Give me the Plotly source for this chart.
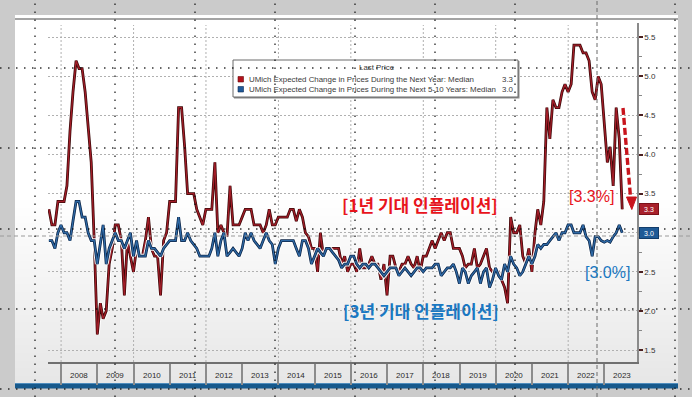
import plotly.graph_objects as go
import pandas as pd

W, H = 692, 397

# ---------------- data (monthly, Aug-2007 .. Jun-2023) ----------------
dates = pd.date_range("2007-08-31", periods=191, freq=pd.offsets.MonthEnd())

one_year_expect = [
    3.3, 3.1, 3.1, 3.4, 3.4,
    3.4, 3.6, 4.3, 4.8, 5.2, 5.1, 5.1, 4.8, 4.4, 3.9, 2.9, 1.7,
    2.1, 1.9, 2.0, 2.6, 2.8, 3.1, 3.1, 2.9, 2.2, 2.9, 2.7, 2.5,
    2.8, 2.7, 2.7, 2.9, 3.2, 2.8, 2.7, 2.7, 2.2, 2.9, 3.0, 3.4,
    3.4, 3.4, 4.6, 4.6, 4.1, 3.5, 3.5, 3.5, 3.3, 3.2, 3.1, 3.3,
    3.3, 3.3, 3.9, 3.0, 3.1, 3.0, 2.95, 3.6, 3.1, 3.1, 3.1, 3.2,
    3.3, 3.3, 3.3, 3.1, 3.1, 3.1, 3.0, 3.1, 3.3, 3.1, 3.1, 3.2,
    3.2, 3.2, 3.2, 3.3, 3.3, 3.15, 3.3, 3.2, 3.0, 2.95, 2.8, 2.8,
    2.5, 3.0, 2.7, 2.8, 2.8, 2.8, 2.8, 2.8, 2.6, 2.7, 2.5, 2.6,
    2.6, 2.5, 2.8, 2.55, 2.55, 2.6, 2.7, 2.6, 2.6, 2.4, 2.6, 2.2,
    2.7, 2.7, 2.55, 2.5, 2.6, 2.6, 2.7, 2.6, 2.55, 2.7, 2.5, 2.7,
    2.7, 2.8, 2.9, 2.8, 2.9, 3.0, 2.9, 3.0, 3.0, 2.8, 2.8, 2.8,
    2.7, 2.55, 2.6, 2.6, 2.8, 2.55, 2.6, 2.7, 2.8, 2.55, 2.5, 2.5,
    2.5, 2.4, 2.3, 2.1, 3.2, 3.0, 3.0, 3.1, 2.7, 2.6, 2.8, 2.5,
    3.0, 3.3, 3.1, 3.4, 4.6, 4.2, 4.7, 4.6, 4.6, 4.8, 4.9, 4.8,
    4.9, 5.4, 5.4, 5.4, 5.3, 5.3, 5.2, 4.8, 4.7, 5.0, 4.9, 4.4,
    3.9, 4.1, 3.6, 4.6, 4.2, 3.3,
]

five_ten_year_expect = [
    2.9, 2.9, 2.8, 3.0, 3.1,
    3.0, 3.0, 2.9, 3.15, 3.4, 3.4, 3.2, 3.2, 3.0, 2.9, 2.9, 2.6,
    2.9, 3.1, 2.6, 2.8, 2.9, 3.0, 2.9, 2.9, 2.8, 2.9, 3.0, 2.7,
    2.9, 2.7, 2.7, 2.7, 2.9, 2.8, 2.8, 2.75, 2.7, 2.8, 2.85, 2.9,
    2.9, 2.9, 3.2, 2.9, 2.9, 3.0, 2.9, 2.85, 2.8, 2.7, 2.7, 2.7,
    2.7, 2.8, 3.0, 2.7, 2.9, 3.0, 2.7, 2.75, 2.8, 2.75, 2.7, 2.8,
    3.0, 2.9, 3.0, 2.9, 2.85, 2.8, 2.9, 3.0, 2.9, 2.85, 2.6, 2.8,
    2.9, 2.9, 2.9, 2.9, 2.9, 2.8, 2.7, 2.9, 2.9, 2.8, 2.6, 2.7,
    2.8, 2.75, 2.7, 2.8, 2.8, 2.75, 2.7, 2.65, 2.55, 2.6, 2.6, 2.7,
    2.7, 2.6, 2.55, 2.6, 2.6, 2.55, 2.6, 2.6, 2.55, 2.5, 2.45, 2.5,
    2.55, 2.55, 2.55, 2.45, 2.5, 2.55, 2.5, 2.45, 2.5, 2.55, 2.55, 2.5,
    2.55, 2.55, 2.55, 2.6, 2.6, 2.45, 2.5, 2.55, 2.55, 2.6, 2.5, 2.35,
    2.55, 2.5, 2.35, 2.45, 2.5, 2.55, 2.35, 2.5, 2.55, 2.3, 2.4, 2.55,
    2.45, 2.4, 2.6, 2.5, 2.7, 2.6, 2.55, 2.45, 2.5, 2.6, 2.7, 2.6,
    2.7, 2.85, 2.8, 2.85, 2.85, 2.9, 2.95, 3.0, 2.9, 3.0, 3.0, 3.1,
    3.1, 3.0, 3.0, 3.0, 3.1, 2.95, 2.9, 2.7, 2.95, 2.95, 2.9, 2.88,
    2.9, 2.88, 2.95, 3.0, 3.1, 3.0,
]

year_labels = ["2008", "2009", "2010", "2011", "2012", "2013", "2014", "2015",
               "2016", "2017", "2018", "2019", "2020", "2021", "2022", "2023"]
y_tick_values = [1.5, 2.0, 2.5, 3.0, 3.5, 4.0, 4.5, 5.0, 5.5]
last_one_year = one_year_expect[-1]
last_five_ten = five_ten_year_expect[-1]

assert len(one_year_expect) == len(dates) == len(five_ten_year_expect)


def px(x):
    return x / W


def py(y):
    return 1 - y / H


RED_CORE, RED_EDGE = "#a31d28", "#3a0808"
BLUE_CORE, BLUE_EDGE = "#2f6aa6", "#0c2446"

fig = go.Figure()
for series, core, edge in [(one_year_expect, RED_CORE, RED_EDGE),
                           (five_ten_year_expect, BLUE_CORE, BLUE_EDGE)]:
    fig.add_trace(go.Scatter(x=dates, y=series, mode="lines",
                             line=dict(color="rgba(255,255,255,0.95)", width=4.8),
                             hoverinfo="skip"))
    fig.add_trace(go.Scatter(x=dates, y=series, mode="lines",
                             line=dict(color=edge, width=2.8), hoverinfo="skip"))
    fig.add_trace(go.Scatter(x=dates, y=series, mode="lines",
                             line=dict(color=core, width=1.3), hoverinfo="skip"))

shapes = []
# panel background (white with light gradient at the bottom)
shapes.append(dict(type="rect", xref="paper", yref="paper", layer="below",
                   x0=px(15), x1=px(678), y0=py(383), y1=py(15),
                   fillcolor="white", line=dict(width=0)))
N = 24
for i in range(N):
    y_top = 200 + i * (183 / N)
    shapes.append(dict(type="rect", xref="paper", yref="paper", layer="below",
                       x0=px(15), x1=px(678), y0=py(383), y1=py(y_top),
                       fillcolor="rgba(0,0,0,0.0037)", line=dict(width=0)))
# top thin gray rule
shapes.append(dict(type="line", xref="paper", yref="paper", layer="below",
                   x0=px(15), x1=px(678), y0=py(19), y1=py(19),
                   line=dict(color="#a4a4a4", width=2)))
# bottom blue bar
shapes.append(dict(type="rect", xref="paper", yref="paper", layer="below",
                   x0=px(15), x1=px(678), y0=py(388.5), y1=py(383),
                   fillcolor="#17598c", line=dict(width=0)))
shapes.append(dict(type="line", xref="paper", yref="paper", layer="below",
                   x0=px(15), x1=px(678), y0=py(383.5), y1=py(383.5),
                   line=dict(color="#4f8dbd", width=1)))
# vertical grid lines every two years
for yr in range(2008, 2024, 2):
    shapes.append(dict(type="line", xref="x", yref="paper", layer="below",
                       x0=f"{yr}-01-01", x1=f"{yr}-01-01", y0=py(362), y1=py(25),
                       line=dict(color="#b0b0b0", width=1, dash="2px,2px")))

# legend box
shapes.append(dict(type="rect", xref="paper", yref="paper", layer="above",
                   x0=px(234), x1=px(519.5), y0=py(98.5), y1=py(61),
                   fillcolor="#8a8a8a", line=dict(width=0)))
shapes.append(dict(type="rect", xref="paper", yref="paper", layer="above",
                   x0=px(233), x1=px(518), y0=py(97), y1=py(60),
                   fillcolor="white", line=dict(color="#6a6a6a", width=1)))
shapes.append(dict(type="rect", xref="paper", yref="paper", layer="above",
                   x0=px(238), x1=px(243.5), y0=py(82), y1=py(76.5),
                   fillcolor="#b3121c", line=dict(color="#6a0a0a", width=0.6)))
shapes.append(dict(type="rect", xref="paper", yref="paper", layer="above",
                   x0=px(238), x1=px(243.5), y0=py(92), y1=py(86.5),
                   fillcolor="#1f5a99", line=dict(color="#0d2a55", width=0.6)))

# dashed red arrow
shapes.append(dict(type="path", xref="paper", yref="paper", layer="above",
                   path=f"M {px(623)},{py(108)} L {px(630.5)},{py(197)}",
                   line=dict(color="#c8141c", width=3.4, dash="7px,3px")))
shapes.append(dict(type="path", xref="paper", yref="paper", layer="above",
                   path=f"M {px(626.5)},{py(197)} L {px(636.5)},{py(197)} L {px(631.8)},{py(209.5)} Z",
                   fillcolor="#c8141c", line=dict(color="#c8141c", width=1)))

# crosshair (screen capture)
shapes.append(dict(type="line", xref="paper", yref="paper", layer="above",
                   x0=px(597), x1=px(597), y0=0, y1=1,
                   line=dict(color="#6a6a6a", width=1, dash="4px,3px")))
shapes.append(dict(type="line", xref="paper", yref="paper", layer="above",
                   x0=0, x1=1, y0=py(236), y1=py(236),
                   line=dict(color="#9a9a9a", width=1, dash="4px,3px")))
# dotted overlay grid of the screen capture
for xv in [35, 115, 195, 275, 355, 435, 515, 675]:
    shapes.append(dict(type="line", xref="paper", yref="paper", layer="above",
                       x0=px(xv), x1=px(xv), y0=0, y1=1,
                       line=dict(color="rgba(0,0,0,0.8)", width=1.4, dash="1.5px,6.5px")))
for yv in [68, 148, 229, 309, 389]:
    shapes.append(dict(type="line", xref="paper", yref="paper", layer="above",
                       x0=0, x1=1, y0=py(yv), y1=py(yv),
                       line=dict(color="rgba(0,0,0,0.8)", width=1.4, dash="1.5px,6.5px")))

ann = []
LEG_FONT = dict(family="Liberation Sans, Arial, sans-serif", size=7.9, color="#3a3a3a")
ann.append(dict(xref="paper", yref="paper", x=px(376.5), y=py(67.5), text="Last Price",
                showarrow=False, xanchor="center", yanchor="middle", font=LEG_FONT))
ann.append(dict(xref="paper", yref="paper", x=px(246.5), y=py(79.3),
                text="UMich Expected Change in Prices During the Next Year: Median",
                showarrow=False, xanchor="left", yanchor="middle", font=LEG_FONT))
ann.append(dict(xref="paper", yref="paper", x=px(246.5), y=py(89.3),
                text="UMich Expected Change in Prices During the Next 5-10 Years: Median",
                showarrow=False, xanchor="left", yanchor="middle", font=LEG_FONT))
ann.append(dict(xref="paper", yref="paper", x=px(516), y=py(79.3), text=f"{last_one_year:.1f}",
                showarrow=False, xanchor="right", yanchor="middle", font=LEG_FONT))
ann.append(dict(xref="paper", yref="paper", x=px(516), y=py(89.3), text=f"{last_five_ten:.1f}",
                showarrow=False, xanchor="right", yanchor="middle", font=LEG_FONT))

# year labels centred in their boxes
for lab in year_labels:
    ann.append(dict(xref="x", yref="paper", x=f"{lab}-07-02", y=py(375), text=lab,
                    showarrow=False, xanchor="center", yanchor="middle",
                    font=dict(family="Liberation Sans, Arial, sans-serif", size=8, color="#2a2a2a")))

# last value tags on right axis (they cover the 3.0 tick label, as in the original)
ann.append(dict(xref="paper", yref="y", x=px(639), y=last_one_year, text=f"{last_one_year:.1f}",
                showarrow=False, xanchor="left", yanchor="middle", bgcolor="#a8202b",
                bordercolor="#7a1018", borderwidth=1, borderpad=1, width=16, height=8,
                font=dict(family="Liberation Sans, Arial, sans-serif", size=7, color="white")))
ann.append(dict(xref="paper", yref="y", x=px(639), y=last_five_ten, text=f"{last_five_ten:.1f}",
                showarrow=False, xanchor="left", yanchor="middle", bgcolor="#1f5a96",
                bordercolor="#123c6a", borderwidth=1, borderpad=1, width=16, height=8,
                font=dict(family="Liberation Sans, Arial, sans-serif", size=7, color="white")))

KR = "Noto Sans CJK KR, sans-serif"
ann.append(dict(xref="paper", yref="paper", x=px(420), y=py(204),
                text="<b>[1년 기대 인플레이션]</b>", showarrow=False,
                xanchor="center", yanchor="middle", font=dict(family=KR, size=17, color="#e8141c")))
ann.append(dict(xref="paper", yref="paper", x=px(421), y=py(310),
                text="<b>[3년 기대 인플레이션]</b>", showarrow=False,
                xanchor="center", yanchor="middle", font=dict(family=KR, size=17, color="#1a78c2")))
ann.append(dict(xref="paper", yref="paper", x=px(591.5), y=py(196.5),
                text=f"[{last_one_year:.1f}%]", showarrow=False,
                xanchor="center", yanchor="middle",
                font=dict(family="Liberation Sans, Arial, sans-serif", size=16, color="#e8141c")))
ann.append(dict(xref="paper", yref="paper", x=px(607.5), y=py(272),
                text=f"[{last_five_ten:.1f}%]", showarrow=False,
                xanchor="center", yanchor="middle",
                font=dict(family="Liberation Sans, Arial, sans-serif", size=16, color="#1a78c2")))

fig.update_layout(
    width=W, height=H, margin=dict(l=0, r=0, t=0, b=0),
    paper_bgcolor="#cbcbcb", plot_bgcolor="rgba(0,0,0,0)",
    showlegend=False, shapes=shapes, annotations=ann,
    xaxis=dict(domain=[px(48), px(637)], type="date",
               range=["2007-08-22", "2023-11-26"],
               tick0="2008-01-01", dtick="M12", ticks="outside", ticklen=21,
               tickwidth=1.5, tickcolor="#8c8c8c", showticklabels=False,
               showgrid=False, zeroline=False, showline=True,
               linecolor="#707070", linewidth=2),
    yaxis=dict(domain=[py(362), py(23)], range=[1.347, 5.683], side="right",
               tickvals=y_tick_values,
               ticktext=["" if v == last_five_ten else f"{v:.1f}" for v in y_tick_values],
               ticks="outside", ticklen=4, tickwidth=2, tickcolor="#4a2020",
               tickfont=dict(family="Liberation Sans, Arial, sans-serif", size=8, color="#333333"),
               showline=True, linecolor="#8a8a8a", linewidth=1.5,
               showgrid=True, gridcolor="#b0b0b0", gridwidth=1, griddash="2px,2px",
               zeroline=False,
               minor=dict(tickvals=[v + 0.25 for v in y_tick_values[:-1]], ticks="outside",
                          ticklen=3, tickwidth=1, tickcolor="#888888", showgrid=False)),
)

fig.write_html("out.html",
               config={"displayModeBar": False},
               post_script="document.body.style.margin='0';"
                           "document.body.style.background='#cbcbcb';")
